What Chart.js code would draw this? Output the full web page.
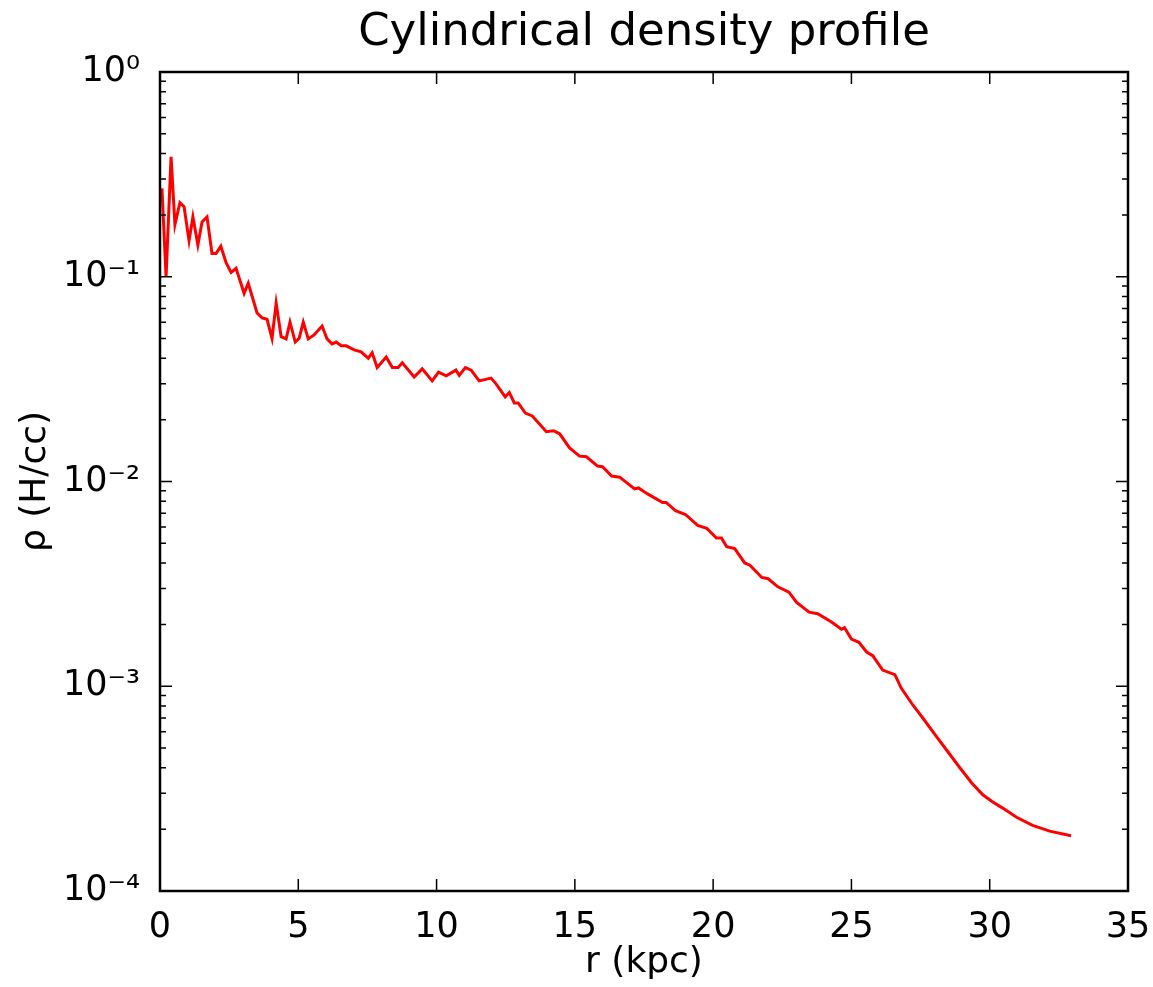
<!DOCTYPE html>
<html>
<head>
<meta charset="utf-8">
<script src="https://cdn.jsdelivr.net/npm/chart.js@4"></script>
<style>
  html, body { margin: 0; padding: 0; background: #fff; }
  #wrap { width: 1153px; height: 987px; position: relative; }
</style>
</head>
<body>
<div id="wrap"><canvas id="profileChart"></canvas></div>
<script>
// radius (kpc)
const radius = [
  0.07, 0.22, 0.4, 0.54, 0.72, 0.87, 1.05, 1.19, 1.37, 1.52,
  1.70, 1.88, 2.03, 2.2, 2.39, 2.57, 2.75, 3.04, 3.19, 3.51,
  3.69, 3.87, 4.05, 4.2, 4.38, 4.56, 4.7, 4.89, 5.03, 5.18,
  5.36, 5.57, 5.86, 6.04, 6.22, 6.37, 6.55, 6.73, 7.02, 7.27,
  7.53, 7.67, 7.85, 8.18, 8.4, 8.61, 8.76, 9.19, 9.48, 9.84,
  10.07, 10.35, 10.7, 10.82, 11.04, 11.25, 11.54, 11.97, 12.15, 12.48,
  12.63, 12.81, 12.95, 13.21, 13.46, 13.97, 14.23, 14.45, 14.81, 15.17,
  15.42, 15.82, 16.0, 16.33, 16.62, 17.16, 17.3, 17.63, 18.17, 18.3,
  18.64, 19.0, 19.44, 19.77, 20.12, 20.3, 20.49, 20.78, 21.14, 21.33,
  21.76, 21.99, 22.34, 22.74, 23.02, 23.47, 23.78, 24.28, 24.64, 24.75,
  25.0, 25.27, 25.55, 25.77, 26.13, 26.57, 26.8, 27.22, 27.58, 28.09,
  28.48, 28.92, 29.35, 29.75, 30.11, 30.47, 30.97, 31.55, 32.17, 32.94
];

// density (H/cc)
const density = [
  0.27, 0.1, 0.385, 0.18, 0.23, 0.22, 0.15, 0.196, 0.143, 0.185,
  0.196, 0.13, 0.13, 0.141, 0.117, 0.105, 0.11, 0.083, 0.093, 0.0665,
  0.063, 0.062, 0.050, 0.0744, 0.051, 0.0497, 0.06, 0.048, 0.050, 0.06,
  0.0497, 0.052, 0.0575, 0.0497, 0.047, 0.048, 0.046, 0.046, 0.0439, 0.043,
  0.040, 0.0425, 0.036, 0.0405, 0.036, 0.036, 0.038, 0.0324, 0.0355, 0.031,
  0.0342, 0.0328, 0.035, 0.033, 0.036, 0.035, 0.031, 0.032, 0.030, 0.0259,
  0.0272, 0.0242, 0.0242, 0.0216, 0.0209, 0.0175, 0.0177, 0.0171, 0.0146, 0.0133,
  0.0132, 0.0119, 0.0118, 0.01064, 0.0105, 0.0092, 0.0093, 0.0087, 0.0079, 0.0079,
  0.0072, 0.0069, 0.0061, 0.0059, 0.0053, 0.0053, 0.0048, 0.0047, 0.0040, 0.0039,
  0.0034, 0.00335, 0.00306, 0.00288, 0.00257, 0.0023, 0.00226, 0.00206, 0.0019, 0.00193,
  0.0017, 0.00164, 0.00147, 0.00141, 0.0012, 0.00114, 0.00098, 0.00081, 0.0007, 0.000565,
  0.00048, 0.0004, 0.000337, 0.000295, 0.000272, 0.000254, 0.000229, 0.000209, 0.000196, 0.000186
];

// axis ticks
const xTicks = [0, 5, 10, 15, 20, 25, 30, 35];
const yDecades = [1e-4, 1e-3, 1e-2, 1e-1, 1];
const yDecadeLabels = ['10\u207B\u2074', '10\u207B\u00B3', '10\u207B\u00B2', '10\u207B\u00B9', '10\u2070'];

const FONT = "'DejaVu Sans', sans-serif";

// minor log ticks 2..9 in each decade
const yMinor = [];
yDecades.slice(0, -1).forEach(d => {
  for (let k = 2; k <= 9; k++) yMinor.push(d * k);
});

// matplotlib-style frame with inward ticks on all four sides
const frameTicks = {
  id: 'frameTicks',
  afterDatasetsDraw(chart) {
    const { ctx, chartArea: a, scales } = chart;
    const xs = scales.x, ys = scales.y;
    ctx.save();
    ctx.strokeStyle = '#000';
    ctx.lineWidth = 1.5;
    ctx.beginPath();
    xTicks.forEach(v => {
      const px = xs.getPixelForValue(v);
      ctx.moveTo(px, a.bottom); ctx.lineTo(px, a.bottom - 12);
      ctx.moveTo(px, a.top); ctx.lineTo(px, a.top + 12);
    });
    yDecades.forEach(v => {
      const py = ys.getPixelForValue(v);
      ctx.moveTo(a.left, py); ctx.lineTo(a.left + 12, py);
      ctx.moveTo(a.right, py); ctx.lineTo(a.right - 12, py);
    });
    yMinor.forEach(v => {
      const py = ys.getPixelForValue(v);
      ctx.moveTo(a.left, py); ctx.lineTo(a.left + 6, py);
      ctx.moveTo(a.right, py); ctx.lineTo(a.right - 6, py);
    });
    ctx.stroke();
    ctx.lineWidth = 2.5;
    ctx.strokeRect(a.left, a.top, a.right - a.left, a.bottom - a.top);
    ctx.restore();
  }
};

const points = radius.map((r, i) => ({ x: r, y: density[i] }));

new Chart(document.getElementById('profileChart'), {
  type: 'line',
  data: {
    datasets: [{
      data: points,
      borderColor: '#ff0000',
      borderWidth: 3,
      pointRadius: 0,
      tension: 0,
      fill: false
    }]
  },
  options: {
    responsive: true,
    maintainAspectRatio: false,
    animation: false,
    layout: { padding: 0 },
    plugins: {
      legend: { display: false },
      tooltip: { enabled: false },
      title: {
        display: true,
        fullSize: false,
        text: 'Cylindrical density profile',
        color: '#000',
        font: { family: FONT, size: 45, weight: 'normal' },
        padding: { top: 6, bottom: 12 }
      }
    },
    scales: {
      x: {
        type: 'linear',
        min: 0,
        max: 35,
        grid: { display: false },
        border: { display: false },
        afterBuildTicks: s => { s.ticks = xTicks.map(v => ({ value: v })); },
        afterFit: s => { s.height = 96; s.paddingLeft = 0; s.paddingRight = 25; },
        ticks: {
          color: '#000',
          padding: 8,
          font: { family: FONT, size: 35 },
          maxRotation: 0,
          autoSkip: false
        },
        title: {
          display: true,
          text: 'r (kpc)',
          color: '#000',
          font: { family: FONT, size: 36 },
          padding: { top: 0, bottom: 3 }
        }
      },
      y: {
        type: 'logarithmic',
        min: 1e-4,
        max: 1,
        grid: { display: false },
        border: { display: false },
        afterBuildTicks: s => {
          s.ticks = yDecades.concat(yMinor).sort((a, b) => a - b).map(v => ({ value: v }));
        },
        afterFit: s => { s.width = 160; s.paddingTop = 0; s.paddingBottom = 0; },
        ticks: {
          color: '#000',
          padding: 12,
          autoSkip: false,
          font: { family: FONT, size: 35 },
          callback: v => {
            const i = yDecades.findIndex(d => Math.abs(d - v) / d < 1e-6);
            return i >= 0 ? yDecadeLabels[i] : '';
          }
        },
        title: {
          display: true,
          text: '\u03C1 (H/cc)',
          color: '#000',
          font: { family: FONT, size: 36 },
          padding: { top: 14, bottom: 0 }
        }
      }
    }
  },
  plugins: [frameTicks]
});
</script>
</body>
</html>
